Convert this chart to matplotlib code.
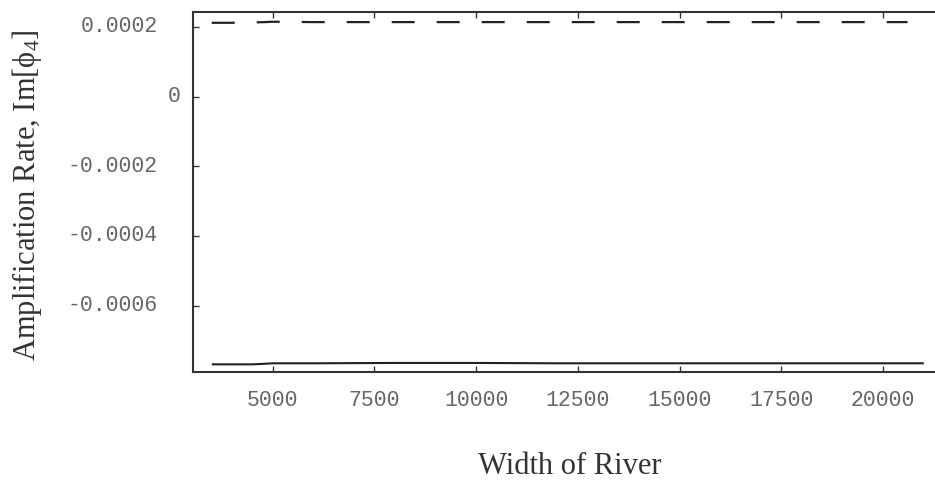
import matplotlib
matplotlib.use("Agg")
import matplotlib.pyplot as plt
import matplotlib.transforms as mtransforms

# ---- data ----
width_solid = [3500, 4000, 4500, 4700, 5000, 6000, 8000, 10000, 12000, 14000, 16000, 18000, 20000, 21000]
rate_solid = [-0.000769, -0.000769, -0.000769, -0.000768, -0.000766, -0.000766, -0.000765,
              -0.000765, -0.000766, -0.000766, -0.000766, -0.000766, -0.000766, -0.000766]
width_dashed = [3500, 4000, 4500, 4800, 5000, 6000, 8000, 10000, 12000, 14000, 16000, 18000, 20000, 20600]
rate_dashed = [0.000212, 0.000212, 0.000213, 0.000214, 0.000215, 0.000214, 0.000214,
               0.000214, 0.000214, 0.000214, 0.000214, 0.000214, 0.000214, 0.000214]

x_ticks = [5000, 7500, 10000, 12500, 15000, 17500, 20000]
x_tick_labels = ["5000", "7500", "10000", "12500", "15000", "17500", "20000"]
y_ticks = [0.0002, 0.0, -0.0002, -0.0004, -0.0006]
y_tick_labels = ["0.0002", "0", "-0.0002", "-0.0004", "-0.0006"]

x_label = "Width of River"
y_label = r"Amplification Rate, Im[$\mathrm{\phi}_4$]"

plt.rcParams["mathtext.fontset"] = "custom"
plt.rcParams["mathtext.rm"] = "Liberation Serif"
plt.rcParams["mathtext.it"] = "Liberation Serif"

fig = plt.figure(figsize=(9.35, 4.90), dpi=100)
ax = fig.add_axes([193 / 935, 1 - 372 / 490, 1 - 193 / 935, (372 - 12) / 490])

line_col = "#222222"
ax.plot(width_solid, rate_solid, color=line_col, lw=1.5, solid_capstyle="butt")
ax.plot(width_dashed, rate_dashed, color=line_col, lw=1.6, dashes=(10.35, 9.9), dash_capstyle="butt")

ax.set_xlim(3040, 21275)
ax.set_ylim(-0.000791, 0.000243)

for s in ["left", "bottom", "top"]:
    ax.spines[s].set_color("#333333")
    ax.spines[s].set_linewidth(1.5)
ax.spines["right"].set_visible(False)

ax.set_xticks(x_ticks)
ax.set_xticklabels(x_tick_labels, family="Liberation Mono", fontsize=15.5, color="#666666")
ax.tick_params(axis="x", direction="in", length=4, width=1, color="#333333", pad=13, top=True)

ax.set_yticks(y_ticks)
ax.set_yticklabels([])
ax.tick_params(axis="y", direction="in", length=4, width=1, color="#333333", right=False)

ytrans = mtransforms.blended_transform_factory(fig.transFigure, ax.transData)
for v, lab in zip(y_ticks, y_tick_labels):
    xr = 181 / 935 if lab == "0" else 158 / 935
    ax.text(xr, v, lab, transform=ytrans, ha="right", va="center",
            family="Liberation Mono", fontsize=15.5, color="#666666")

fig.text(570 / 935, 1 - 466 / 490, x_label, ha="center", va="center",
         family="Liberation Serif", fontsize=22, color="#333333")
fig.text(27 / 935, 1 - 195 / 490, y_label, ha="center", va="center", rotation=90,
         family="Liberation Serif", fontsize=22, color="#333333")

fig.savefig("out.png", dpi=100, facecolor="white")
